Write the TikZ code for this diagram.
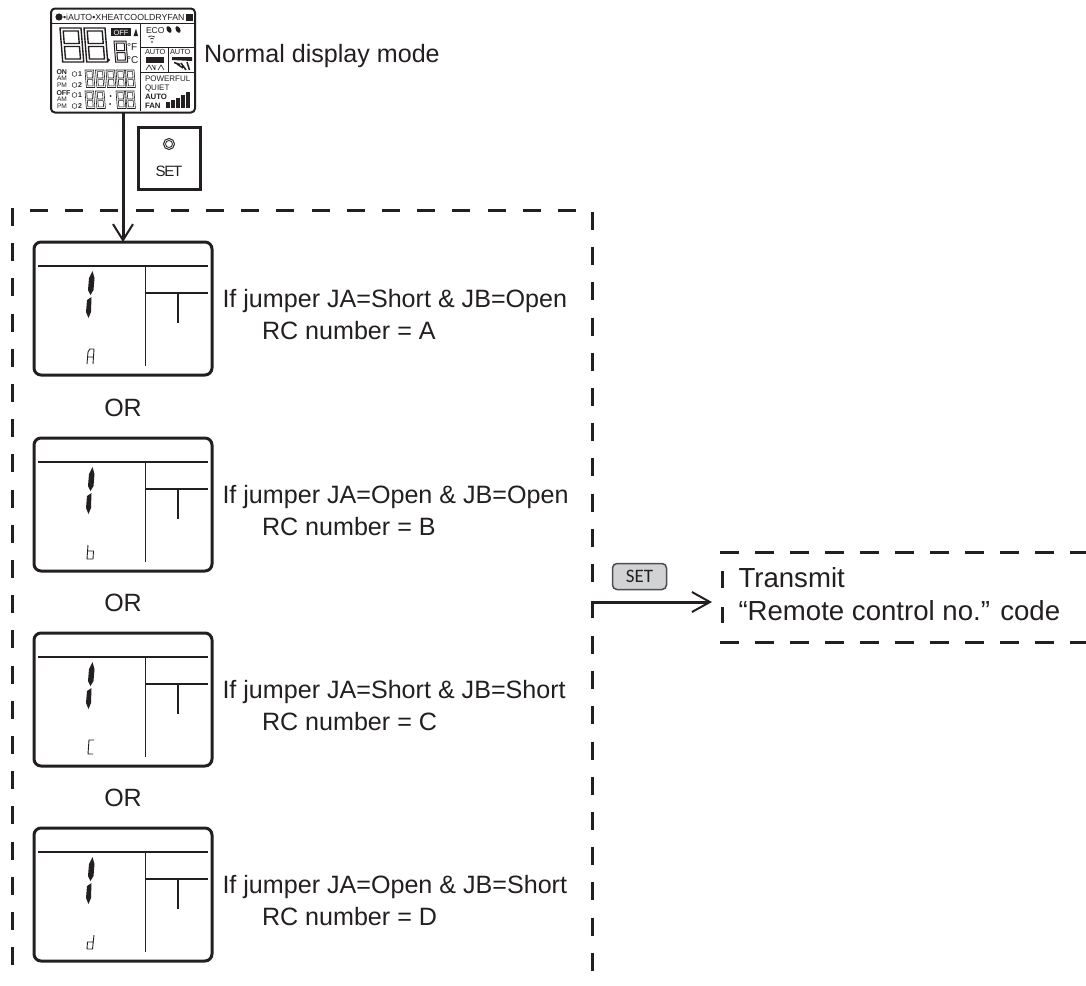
\documentclass[tikz,border=0pt]{standalone}
\usepackage{fontspec}
\setmainfont{Liberation Sans}
\newfontfamily\btnfont{Carlito}
\usetikzlibrary{arrows.meta}
\definecolor{ink}{HTML}{231F20}
\definecolor{btn}{HTML}{D1D2D4}
\newcommand{\digitseg}[6][0.5]{%
 % x y w h thickness
 \begin{scope}[shift={(#2,#3)},xslant=-0.08,line width=#1pt]
  \draw[ink] (0,0) rectangle (#4,#5);
  \draw[ink] (#6,#6) rectangle (#4-#6,#5*0.5-#6*0.5);
  \draw[ink] (#6,#5*0.5+#6*0.5) rectangle (#4-#6,#5-#6);
 \end{scope}}
\tikzset{
 x=1pt,y=-1pt,
 every node/.style={text=ink,inner sep=0pt,outer sep=0pt},
 lbl/.style={font=\fontsize{25.1}{28}\selectfont,anchor=base west},
 biglbl/.style={font=\fontsize{27.6}{30}\selectfont,anchor=base west},
 ortext/.style={font=\fontsize{25}{28}\selectfont,anchor=base},
 screen/.style={draw=ink,line width=3pt,rounded corners=7pt,minimum width=178pt,minimum height=133pt,anchor=north west},
 thinln/.style={draw=ink,line width=1.1pt},
 dashline/.style={draw=ink,line width=3pt,dash pattern=on 18pt off 17.2pt},
 dashlineb/.style={draw=ink,line width=3pt,dash pattern=on 19pt off 16pt},
 arrowln/.style={draw=ink,line width=3pt,-{Straight Barb[length=16pt,width=20pt,line width=2pt]}},
 lcdtext/.style={font=\fontsize{7.6}{8}\selectfont,anchor=base west},
 lcdbold/.style={font=\bfseries\fontsize{7.8}{8}\selectfont,anchor=base west},
}
\newcommand{\scr}[3]{%
 \node[screen] (s#1) at (34,#2) {};
 \draw[thinln] (38,#2+24) -- (208,#2+24);
 \draw[thinln] (145.5,#2+24) -- (145.5,#2+124);
 \draw[thinln] (145.5,#2+51) -- (208,#2+51);
 \draw[thinln] (178,#2+51) -- (178,#2+81);
 \fill[ink] (92.5,#2+29) -- (94.5,#2+36) -- (93.5,#2+48) -- (90.5,#2+53) -- (88,#2+48) -- (89,#2+36) -- cycle;
 \fill[ink] (91.5,#2+55) -- (91,#2+70) -- (88.5,#2+76) -- (86,#2+70) -- (87,#2+58) -- cycle;
 \begin{scope}[shift={(87,#2+107)},line width=0.9pt,ink]
  #3
 \end{scope}}
\begin{document}
\begin{tikzpicture}
\useasboundingbox (0,0) rectangle (1086,985);
% top LCD
\node[draw=ink,line width=2pt,rounded corners=4pt,minimum width=144pt,minimum height=104pt,anchor=north west] (lcd) at (51,8.5) {};
\fill[ink] (59,17) circle (3.6pt);
\node[lcdtext,font=\fontsize{8.8}{9}\selectfont] (st) at (63,20.5) {•iAUTO•XHEATCOOLDRYFAN};
\fill[ink] (186,14) rectangle (193,21);
\draw[thinln,line width=.7pt] (52,23.5) -- (194,23.5);
\draw[thinln,line width=.9pt] (140.5,23) -- (140.5,111);
\draw[thinln,line width=.9pt] (140.5,47) -- (194,47);
\draw[thinln,line width=.9pt] (140.5,72) -- (194,72);
\draw[thinln,line width=.9pt] (168,47) -- (168,72);
\digitseg[1.4]{60}{28}{21}{34}{3}
\digitseg[1.4]{84}{28}{21}{34}{3}
\fill[ink] (108.5,60) circle (1.7pt);
\digitseg[1]{114}{41}{12}{21}{2}
\fill[ink] (111,28) rectangle (131,36);
\node[font=\fontsize{7.5}{8}\selectfont,text=white,anchor=base] (off) at (121,35) {OFF};
\fill[ink] (133.5,36) -- (136,28.5) -- (138,36) -- cycle;
\node[lcdtext,font=\fontsize{10}{10}\selectfont] (degf) at (127,50) {°F};
\node[lcdtext,font=\fontsize{10}{10}\selectfont] (degc) at (127,63) {°C};
\node[lcdtext,font=\fontsize{8.6}{9}\selectfont] (eco) at (146,33) {ECO};
\foreach \xx in {169,178}{\fill[ink,rotate around={30:(\xx,29.5)}] (\xx,29.5) ellipse (2.2pt and 3.6pt);}
\draw[ink,line width=.6pt] (148,37) arc (235:305:6);
\draw[ink,line width=.6pt] (150,39) arc (235:305:3.5);
\fill[ink] (152,42) circle (.9pt);
\node[lcdtext,font=\fontsize{7.4}{8}\selectfont] (a1) at (145,54) {AUTO};
\node[lcdtext,font=\fontsize{7.4}{8}\selectfont] (a2) at (170,54) {AUTO};
\fill[ink] (146,57) rectangle (164,63);
\draw[ink,line width=.6pt] (146,70) -- (149,65) -- (152,70) (152,65)--(155,70) (155,65) -- (155,70) (158,70)--(161,65)--(164,70);
\fill[ink] (172,57) -- (192,57) -- (192,61) -- (172,60) -- cycle;
\draw[ink,line width=1.5pt] (174,62.5)--(180,64.5) (177,64)--(183,68) (181,63)--(186,70) (187,62)--(189.5,70);
\node[lcdtext,font=\fontsize{8}{9}\selectfont] (pw) at (145,81) {POWERFUL};
\node[lcdtext,font=\fontsize{8}{9}\selectfont] (qt) at (145,90) {QUIET};
\node[lcdbold] (au) at (145,99) {AUTO};
\node[lcdbold] (fn) at (145,108) {FAN};
\foreach \i/\h in {0/6,1/8,2/10,3/13,4/16}{\fill[ink] (165.5+\i*5.2,107.5) rectangle (169.5+\i*5.2,107.5-\h);}
\node[lcdbold,font=\bfseries\fontsize{7}{7}\selectfont] (on) at (56.5,74) {ON};
\node[lcdtext,font=\fontsize{6.6}{7}\selectfont] (am1) at (57,80) {AM};
\node[lcdtext,font=\fontsize{6.6}{7}\selectfont] (pm1) at (57,87) {PM};
\node[lcdbold,font=\bfseries\fontsize{7}{7}\selectfont] (of) at (56.5,95) {OFF};
\node[lcdtext,font=\fontsize{6.6}{7}\selectfont] (am2) at (57,101) {AM};
\node[lcdtext,font=\fontsize{6.6}{7}\selectfont] (pm2) at (57,108) {PM};
\foreach \yy/\nn in {74/1,85/2,95/1,106/2}{\draw[ink,line width=.5pt] (74.5,\yy) circle (2.4pt);
 \node[lcdbold,font=\bfseries\fontsize{7}{7}\selectfont] at (78,\yy+2.5) {\nn};}
\foreach \xx in {85,95.5,106,116,125.5}{\digitseg[.6]{\xx}{70}{8.5}{17.5}{1.6}}
\foreach \xx in {85,95.5,116,125.5}{\digitseg[.6]{\xx}{91}{8.5}{17.5}{1.6}}
\fill[ink] (110.5,96) circle (1pt) (110,104) circle (1pt);
\node[lbl] (nd) at (204,62) {Normal display mode};
% SET key box
\node[draw=ink,line width=3pt,minimum width=62pt,minimum height=62pt,anchor=north west] (key) at (138,127.5) {};
\draw[ink,line width=1pt] (169,144) circle (5.5pt);
\draw[ink,line width=.8pt] (169,144) circle (3.5pt);
\node[font=\fontsize{15}{15}\selectfont,anchor=base] (keyt) at (169,176) {\addfontfeature{LetterSpace=-8}SET};
% outer dashed box
\draw[dashline] (30,210) -- (592,210);
\draw[dashline] (12.5,208) -- (12.5,972);
\draw[dashline] (592,212) -- (592,590);
\draw[dashline] (592,636) -- (592,972);
% screens
\scr{1}{242}{\draw (0,15) -- (1,3) -- (3,0) -- (7,0) -- (6,15) (0.5,8)--(6.5,8);}
\scr{2}{438}{\draw (1,0) -- (0,14) -- (6,14) -- (6.5,6) -- (0.5,6);}
\scr{3}{633}{\draw (7,0) -- (2,0) -- (1,14) -- (6,14);}
\scr{4}{828}{\draw (7,0) -- (5.5,14) -- (0,14) -- (0.5,7) -- (6,7);}
\node[ortext] (or1) at (123,416) {OR};
\node[ortext] (or2) at (123,611) {OR};
\node[ortext] (or3) at (123,806) {OR};
\foreach \nm/\yy/\a/\l in {j1/307/Short \& JB=Open/A,j2/503/Open \& JB=Open/B,j3/698/Short \& JB=Short/C,j4/893/Open \& JB=Short/D}{
 \node[lbl] (\nm) at (222.5,\yy) {If jumper JA=\a};
 \node[lbl] (\nm r) at (262,\yy+32) {RC number = \l};
}
% arrows
\draw[arrowln] (lcd.south -| s1.north) -- (s1.north);
% SET button + transmit
\node[draw=ink!80,line width=1.5pt,fill=btn,rounded corners=4.5pt,minimum width=54pt,minimum height=26pt,anchor=north west,font=\btnfont\fontsize{19}{19}\selectfont] (btn) at (612.5,563.5) {SET};
\coordinate (from) at (592,618);
\draw[dashlineb] (720,552) -- (1086,552);
\draw[dashlineb] (720,642) -- (1086,642);
\draw[draw=ink,line width=3pt] (722,571) -- (722,588) (722,607) -- (722,623);
\coordinate (tbox) at (712,602);
\draw[arrowln,-{Straight Barb[length=18pt,width=20pt,line width=2pt]}] (from) |- (tbox);
\node[biglbl] (tr) at (738.5,587) {Transmit};
\node[biglbl] (rc) at (738.5,620) {“Remote control no.” code};
\end{tikzpicture}
\end{document}
